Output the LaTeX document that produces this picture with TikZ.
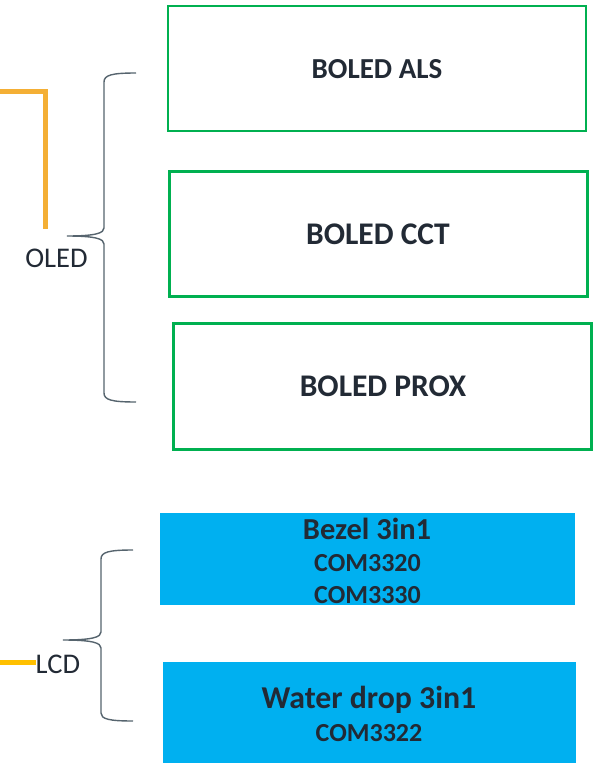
\documentclass[tikz,border=0pt]{standalone}
\usepackage{fontspec}
\setmainfont{Carlito}
\definecolor{boxgreen}{HTML}{00B050}
\definecolor{boxblue}{HTML}{00B0F0}
\definecolor{txt}{HTML}{222A35}
\definecolor{brc}{HTML}{56646E}
\definecolor{orangeA}{HTML}{F4AF35}
\definecolor{orangeB}{HTML}{FFC000}
\begin{document}
\begin{tikzpicture}[x=1pt,y=-1pt,
  gbox/.style={draw=boxgreen,fill=white,inner sep=0pt},
  bbox/.style={fill=boxblue,inner sep=0pt},
  lbl/.style={text=txt,inner sep=0pt,align=center,font=\bfseries},
  brace/.style={draw=brc,line width=1.4pt},
  lead/.style={line width=5pt}]
\useasboundingbox[fill=white] (0,0) rectangle (600,763);
% green boxes
\draw[gbox,line width=2pt] (168,6) rectangle (586,131);
\draw[gbox,line width=3pt] (169.5,171.5) rectangle (587,296);
\draw[gbox,line width=3pt] (173.5,323) rectangle (591,449);
\node[lbl,font=\bfseries\fontsize{29}{32}\selectfont] (als) at (377,69) {BOLED ALS};
\node[lbl,font=\bfseries\fontsize{31.5}{34}\selectfont] (cct) at (378,234) {BOLED CCT};
\node[lbl,font=\bfseries\fontsize{31.5}{34}\selectfont] (prox) at (383,386) {BOLED PROX};
% blue boxes
\fill[boxblue] (160,513) rectangle (575,605);
\fill[boxblue] (163,662) rectangle (576,763);
\node[lbl,font=\bfseries\fontsize{30.5}{32}\selectfont] (bezel) at (367,529) {Bezel 3in1};
\node[lbl,font=\bfseries\fontsize{26}{28}\selectfont] (c3320) at (367.5,563) {COM3320};
\node[lbl,font=\bfseries\fontsize{26}{28}\selectfont] (c3330) at (367.5,595) {COM3330};
\node[lbl,font=\bfseries\fontsize{31.8}{34}\selectfont] (water) at (369,699.5) {Water drop 3in1};
\node[lbl,font=\bfseries\fontsize{26}{28}\selectfont] (c3322) at (369,733) {COM3322};
% labels
\node[text=txt,inner sep=0pt,font=\fontsize{28.5}{30}\selectfont] (oled) at (56.5,258) {OLED};
\node[text=txt,inner sep=0pt,font=\fontsize{28.5}{30}\selectfont,anchor=west] (lcd) at (35.5,664) {LCD};
% braces
\coordinate (otip) at (67,236);
\draw[brace] (136,73) .. controls (112,73) and (104,75) .. (104,82) -- (104,228)
  .. controls (104,233) and (96,236) .. (otip)
  .. controls (96,236) and (104,239) .. (104,244) -- (104,393)
  .. controls (104,400) and (112,402) .. (136,402);
\coordinate (ltip) at (63,640);
\draw[brace] (133,550) .. controls (109,550) and (101,552) .. (101,559) -- (101,632)
  .. controls (101,637) and (93,640) .. (ltip)
  .. controls (93,640) and (101,643) .. (101,648) -- (101,713)
  .. controls (101,719) and (109,721) .. (133,721);
% orange leads
\coordinate (oa) at (0,91.5);
\coordinate (ob) at (45.5,91.5);
\coordinate (oc) at (45.5,229);
\draw[lead,draw=orangeA] (oa) -- (ob) -- (oc);
\coordinate (la) at (0,662);
\draw[lead,draw=orangeB] (la) -- (la -| lcd.west);
\end{tikzpicture}
\end{document}
